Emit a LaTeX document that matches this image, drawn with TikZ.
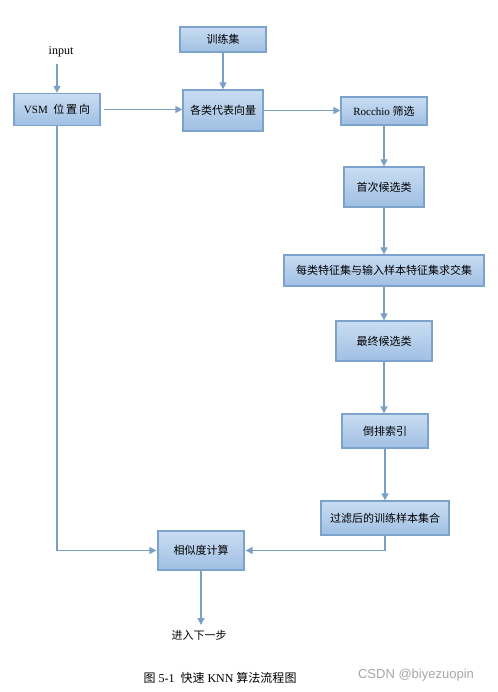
\documentclass[tikz,border=0pt]{standalone}
\usepackage{fontspec}
\setmainfont{Liberation Serif}
\newfontfamily\cjk{Noto Sans CJK SC}
\newfontfamily\wmfont{Liberation Sans}
\usetikzlibrary{arrows.meta}
\definecolor{boxtop}{HTML}{C9DDF2}
\definecolor{boxbot}{HTML}{A0BFE3}
\definecolor{boxline}{HTML}{7BA3CC}
\definecolor{arrowc}{HTML}{7AA0C8}
\tikzset{
  box/.style={draw=boxline, line width=1.3bp, top color=boxtop, bottom color=boxbot,
    minimum width=#1, inner sep=0pt, font=\fontsize{11bp}{13bp}\selectfont},
  conn/.style={draw=arrowc, line width=1.3bp, -{Triangle[width=7bp,length=7bp]}},
  lbl/.style={inner sep=0pt, font=\fontsize{11bp}{13bp}\selectfont}
}
\begin{document}
\begin{tikzpicture}[x=1bp,y=-1bp]
\useasboundingbox (0,0) rectangle (498,692);
% boxes
\node[box=86bp, minimum height=25bp] (train) at (223,39.5) {\cjk 训练集};
\node[lbl, font=\fontsize{12bp}{14bp}\selectfont] (input) at (61,52) {input};
\node[box=86bp, minimum height=32bp] (vsm) at (57,109.5) {VSM\ \ {\cjk 位\,置\,向}};
\node[box=80bp, minimum height=41bp] (rep) at (223,110.5) {\cjk 各类代表向量};
\node[box=86bp, minimum height=28bp] (roc) at (384,111) {Rocchio {\cjk 筛选}};
\node[box=80bp, minimum height=40bp] (first) at (384,187) {\cjk 首次候选类};
\node[box=200bp, minimum height=31bp] (inter) at (384,270.5) {\cjk 每类特征集与输入样本特征集求交集};
\node[box=96bp, minimum height=40bp] (final) at (384,341) {\cjk 最终候选类};
\node[box=86bp, minimum height=34bp] (inv) at (385,431) {\cjk 倒排索引};
\node[box=128bp, minimum height=34bp] (filt) at (385,518) {\cjk 过滤后的训练样本集合};
\node[box=86bp, minimum height=39bp] (sim) at (201,550.5) {\cjk 相似度计算};
\node[lbl] (next) at (199,635) {\cjk 进入下一步};
\node[lbl, font=\fontsize{12bp}{14bp}\selectfont] (cap) at (220,678) {{\cjk 图} 5-1\ \ {\cjk 快速} KNN {\cjk 算法流程图}};
\node[lbl, text=black!35, font=\wmfont\fontsize{13bp}{15bp}\selectfont] (wm) at (416,675) {CSDN @biyezuopin};
% connectors
\coordinate (inEnd) at (57,64);
\draw[conn] (inEnd) -- (vsm.north);
\draw[conn] (train.south) -- (train.south |- rep.north);
\draw[conn] ([xshift=3bp]vsm.east) -- (vsm.east -| rep.west);
\draw[conn] (rep.east) -- (rep.east -| roc.west);
\draw[conn] (roc.south) -- (roc.south |- first.north);
\draw[conn] (first.south) -- (first.south |- inter.north);
\draw[conn] (inter.south) -- (inter.south |- final.north);
\draw[conn] (final.south) -- (final.south |- inv.north);
\draw[conn] (inv.south) -- (inv.south |- filt.north);
\coordinate (leftCorner) at (vsm.south |- sim.west);
\draw[conn] (vsm.south) -- (leftCorner) -- ([xshift=-1bp]sim.west);
\coordinate (rightCorner) at (filt.south |- sim.east);
\draw[conn] (filt.south) -- (rightCorner) -- ([xshift=1bp]sim.east);
\coordinate (outEnd) at (201,625);
\draw[conn] (sim.south) -- (outEnd);
\end{tikzpicture}
\end{document}
